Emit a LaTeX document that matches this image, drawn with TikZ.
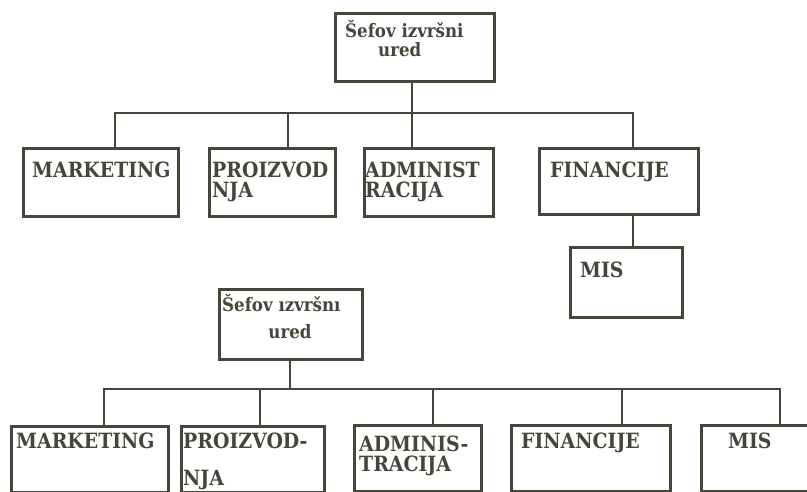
\documentclass[tikz,border=0pt]{standalone}
\usepackage{fontspec}
\setmainfont{DejaVu Serif}
\newfontfamily\chartfont{DejaVu Serif Condensed}
\definecolor{ink}{HTML}{45453A}
\begin{document}
\begin{tikzpicture}[x=1pt,y=-1pt,
  box/.style={draw=ink,line width=2.6pt,inner sep=0pt,anchor=north west},
  wire/.style={draw=ink,line width=2.6pt},
  lbl/.style={text=ink,font=\chartfont\bfseries\fontsize{21}{21}\selectfont,inner sep=0pt,anchor=base west},
  small/.style={text=ink,font=\chartfont\bfseries\fontsize{18.5}{18.5}\selectfont,inner sep=0pt,anchor=base west}]
\useasboundingbox[fill=white] (0,0) rectangle (807,492);

% ---------- upper chart ----------
\node[box,minimum width=159pt,minimum height=68pt] (r1) at (334,12) {};
\node[box,minimum width=155pt,minimum height=68pt] (mk1) at (22,147) {};
\node[box,minimum width=126pt,minimum height=68pt] (pr1) at (208,147) {};
\node[box,minimum width=129pt,minimum height=68pt] (ad1) at (363,147) {};
\node[box,minimum width=159pt,minimum height=66pt] (fi1) at (538,147) {};
\node[box,minimum width=112pt,minimum height=70pt] (mi1) at (569,246) {};

\coordinate (u1) at (115,113);
\coordinate (u2) at (288,113);
\coordinate (u3) at (412,113);
\coordinate (u4) at (633,113);
\draw[wire] (r1.south -| u3) -- (u3);
\draw[wire] (u1 |- mk1.north) -- (u1) -- (u4) -- (u4 |- fi1.north);
\draw[wire] (u2) -- (u2 |- pr1.north);
\draw[wire] (u3) -- (u3 |- ad1.north);
\draw[wire] (fi1.south -| u4) -- (u4 |- mi1.north);

\node[small] (r1a) at (345,38) {Šefov izvršni};
\node[small] (r1b) at (378,57) {ured};
\node[lbl] (mk1t) at (32,178) {MARKETING};
\node[lbl] (pr1a) at (212,178) {PROIZVOD};
\node[lbl] (pr1b) at (212,198) {NJA};
\node[lbl] (ad1a) at (365,178) {ADMINIST};
\node[lbl] (ad1b) at (365,198) {RACIJA};
\node[lbl] (fi1t) at (550,178) {FINANCIJE};
\node[lbl] (mi1t) at (580,277) {MIS};

% ---------- lower chart ----------
\node[box,minimum width=143pt,minimum height=70pt] (r2) at (218,288) {};
\node[box,minimum width=157pt,minimum height=66pt] (mk2) at (10,425) {};
\node[box,minimum width=143pt,minimum height=66pt] (pr2) at (180,425) {};
\node[box,minimum width=127pt,minimum height=66pt] (ad2) at (353,424) {};
\node[box,minimum width=159pt,minimum height=66pt] (fi2) at (510,424) {};
\node[box,minimum width=120pt,minimum height=66pt] (mi2) at (700,424) {};

\coordinate (v1) at (104,389);
\coordinate (v2) at (260,389);
\coordinate (v3) at (290,389);
\coordinate (v4) at (433,389);
\coordinate (v5) at (622,389);
\coordinate (v6) at (780,389);
\draw[wire] (r2.south -| v3) -- (v3);
\draw[wire] (v1 |- mk2.north) -- (v1) -- (v6) -- (v6 |- mi2.north);
\draw[wire] (v2) -- (v2 |- pr2.north);
\draw[wire] (v4) -- (v4 |- ad2.north);
\draw[wire] (v5) -- (v5 |- fi2.north);

\node[small] (r2a) at (222,312) {Šefov ızvršnı};
\node[small,anchor=base] (r2b) at (290,338) {ured};
\node[lbl] (mk2t) at (16,448) {MARKETING};
\node[lbl] (pr2a) at (183,448) {PROIZVOD-};
\node[lbl] (pr2b) at (183,485) {NJA};
\node[lbl] (ad2a) at (359,451) {ADMINIS-};
\node[lbl] (ad2b) at (359,471) {TRACIJA};
\node[lbl] (fi2t) at (521,448) {FINANCIJE};
\node[lbl] (mi2t) at (728,448) {MIS};
\end{tikzpicture}
\end{document}
